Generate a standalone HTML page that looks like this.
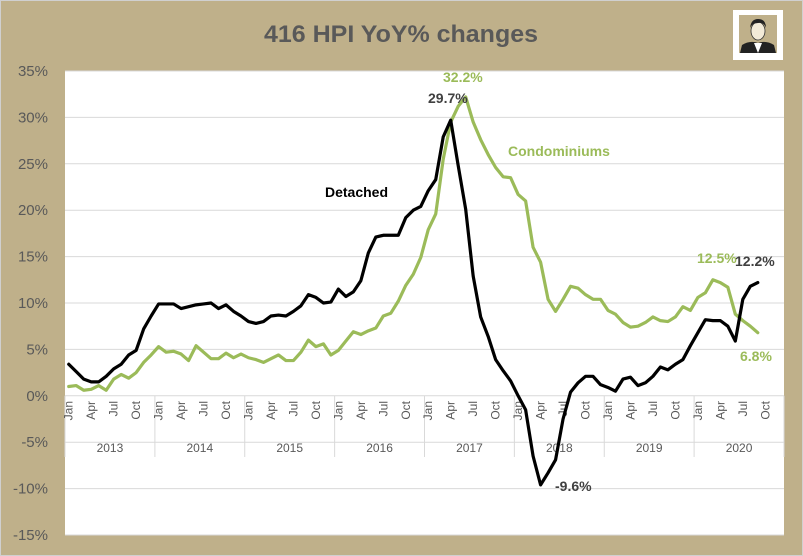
<!DOCTYPE html>
<html><head><meta charset="utf-8"><style>
html,body{margin:0;padding:0;background:#fff}
svg{display:block;font-family:"Liberation Sans",sans-serif}
</style></head><body>
<svg id="chart" width="803" height="556" viewBox="0 0 803 556" xmlns="http://www.w3.org/2000/svg">
<rect x="0" y="0" width="803" height="556" fill="#BFB08A"/>
<rect x="0.5" y="0.5" width="802" height="555" fill="none" stroke="#d0d0d0"/>
<text x="401" y="42" text-anchor="middle" font-size="24" font-weight="bold" fill="#595959" textLength="274" lengthAdjust="spacingAndGlyphs">416 HPI YoY% changes</text>
<g>
<rect x="733" y="10" width="50" height="50" fill="#fff"/>
<rect x="739" y="15" width="38" height="38" fill="#BFB08A"/>
<ellipse cx="758" cy="31" rx="7" ry="9" fill="#f2ead8" stroke="#333" stroke-width="0.8"/>
<path d="M750 28 Q751 19 758 19 Q766 19 766 28 Q764 22 758 23 Q752 23 750 28Z" fill="#222"/>
<path d="M740 53 L742 45 Q750 40 758 43 Q766 40 774 45 L776 53Z" fill="#222"/>
<path d="M754 43 L758 53 L762 43Z" fill="#fff"/>
</g>
<rect x="65" y="71" width="719" height="464" fill="#fff"/>
<g id="grid"></g>
<g id="yaxis"></g>
<g id="xaxis"></g>
<g id="series"></g>
<g id="labels">
<text x="443" y="82" font-size="14" font-weight="bold" fill="#9BBB59">32.2%</text>
<text x="428" y="103" font-size="14" font-weight="bold" fill="#404040">29.7%</text>
<text x="508" y="156" font-size="14" font-weight="bold" fill="#9BBB59">Condominiums</text>
<text x="325" y="197" font-size="14" font-weight="bold" fill="#000">Detached</text>
<text x="697" y="263" font-size="14" font-weight="bold" fill="#9BBB59">12.5%</text>
<text x="735" y="266" font-size="14" font-weight="bold" fill="#404040">12.2%</text>
<text x="740" y="361" font-size="14" font-weight="bold" fill="#9BBB59">6.8%</text>
<text x="555" y="491" font-size="14" font-weight="bold" fill="#404040">-9.6%</text>
</g>
</svg>
<script>
const years = ["2013","2014","2015","2016","2017","2018","2019","2020"];
const monthNames = ["Jan","Feb","Mar","Apr","May","Jun","Jul","Aug","Sep","Oct","Nov","Dec"];
const yTicks = [35,30,25,20,15,10,5,0,-5,-10,-15];
const detached = [3.4,2.6,1.8,1.5,1.5,2.1,2.9,3.4,4.4,4.9,7.2,8.6,
9.9,9.9,9.9,9.4,9.6,9.8,9.9,10.0,9.4,9.8,9.1,8.6,
8.0,7.8,8.0,8.6,8.7,8.6,9.1,9.7,10.9,10.6,10.0,10.1,
11.5,10.7,11.2,12.4,15.4,17.1,17.3,17.3,17.3,19.2,20.0,20.4,
22.1,23.3,27.9,29.7,24.8,20.1,12.9,8.5,6.4,3.9,2.7,1.6,
0.0,-1.5,-6.5,-9.6,-8.3,-6.9,-2.5,0.4,1.4,2.1,2.1,1.2,
0.9,0.5,1.8,2.0,1.1,1.4,2.1,3.1,2.8,3.4,3.9,5.4,
6.8,8.2,8.1,8.1,7.5,5.9,10.4,11.8,12.2];
const condos = [1.0,1.1,0.6,0.7,1.1,0.6,1.8,2.3,1.9,2.5,3.6,4.4,
5.3,4.7,4.8,4.5,3.8,5.4,4.7,4.0,4.0,4.6,4.1,4.5,
4.1,3.9,3.6,4.0,4.4,3.8,3.8,4.7,6.0,5.3,5.6,4.4,
4.9,5.9,6.9,6.6,7.0,7.3,8.6,8.9,10.2,11.9,13.1,14.9,
17.9,19.6,25.5,29.5,31.2,32.2,29.5,27.6,26.0,24.6,23.6,23.5,
21.7,21.0,16.0,14.4,10.4,9.1,10.4,11.8,11.6,10.9,10.4,10.4,
9.2,8.8,7.9,7.4,7.5,7.9,8.5,8.1,8.0,8.5,9.6,9.2,
10.6,11.1,12.5,12.2,11.7,8.8,8.1,7.5,6.8];

const NS = "http://www.w3.org/2000/svg";
const X0 = 65, X1 = 784, Y0 = 71, Y1 = 535, VMAX = 35, VMIN = -15;
const nCat = years.length * 12;
const catW = (X1 - X0) / nCat;
const xPos = i => X0 + (i + 0.5) * catW;
const yPos = v => Y0 + (VMAX - v) / (VMAX - VMIN) * (Y1 - Y0);
function mk(tag, attrs, parent, text) {
  const e = document.createElementNS(NS, tag);
  for (const k in attrs) e.setAttribute(k, attrs[k]);
  if (text !== undefined) e.textContent = text;
  parent.appendChild(e);
  return e;
}
const grid = document.getElementById('grid');
const yax = document.getElementById('yaxis');
yTicks.forEach(t => {
  const y = yPos(t);
  const l = mk('line', {x1: X0, x2: X1, y1: y, y2: y, stroke: '#d9d9d9', 'stroke-width': 1}, grid);
  
  
  const tx = mk('text', {x: 48, y: y + 5, 'text-anchor': 'end', 'font-size': 15, fill: '#595959'}, yax, t + '%');
  
  
});
const xax = document.getElementById('xaxis');
const y0 = yPos(0);
for (let k = 0; k <= years.length; k++) {
  const x = X0 + k * 12 * catW;
  const l = mk('line', {x1: x, x2: x, y1: y0, y2: 457, stroke: '#d9d9d9', 'stroke-width': 1}, xax);
  
  
}
years.forEach((yr, k) => {
  const t = mk('text', {x: X0 + (k + 0.5) * 12 * catW, y: 452, 'text-anchor': 'middle', 'font-size': 12, fill: '#595959'}, xax, yr);
  
  
  [0, 3, 6, 9].forEach(m => {
    const x = xPos(k * 12 + m);
    const mt = mk('text', {x: 0, y: 0, 'text-anchor': 'end', 'font-size': 12, fill: '#595959', transform: `translate(${x + 4},401) rotate(-90)`}, xax, monthNames[m]);
    
    
  });
});
const ser = document.getElementById('series');
function line(vals, color, name) {
  const d = vals.map((v, i) => (i ? 'L' : 'M') + xPos(i).toFixed(2) + ' ' + yPos(v).toFixed(2)).join(' ');
  const p = mk('path', {d: d, fill: 'none', stroke: color, 'stroke-width': 3.2, 'stroke-linejoin': 'round', 'stroke-linecap': 'round'}, ser);
  
  
}
line(condos, '#9BBB59', 'condominiums-line');
line(detached, '#000000', 'detached-line');
</script>
</body></html>
